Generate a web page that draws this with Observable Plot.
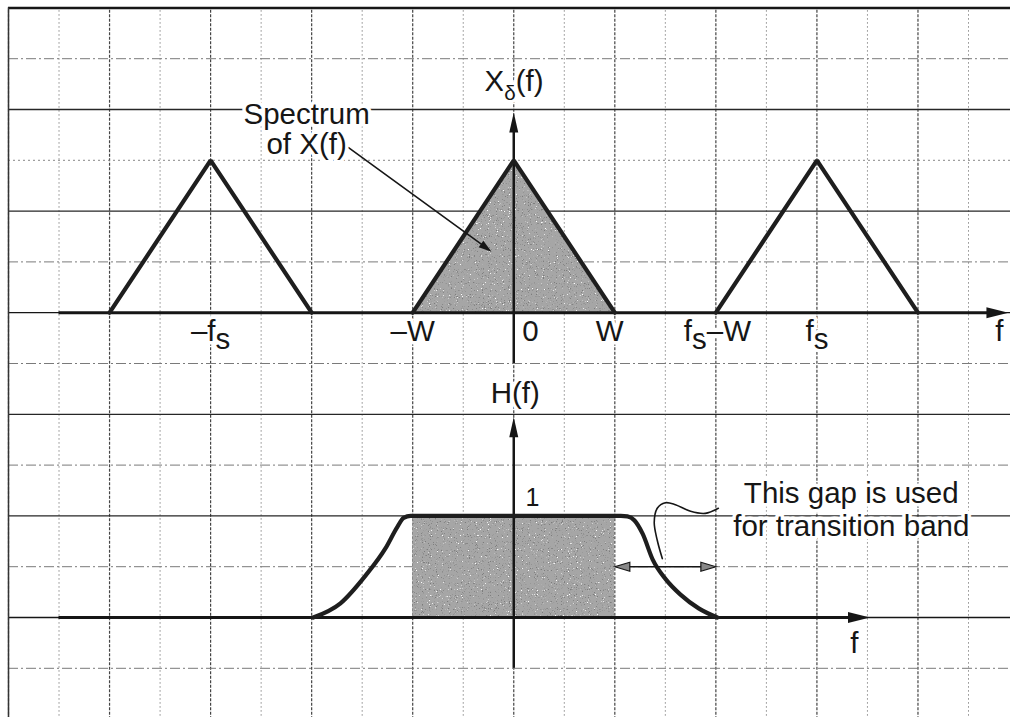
<!DOCTYPE html>
<html>
<head>
<meta charset="utf-8">
<script src="https://cdn.jsdelivr.net/npm/d3@7"></script>
<script src="https://cdn.jsdelivr.net/npm/@observablehq/plot@0.6"></script>
<style>
  html, body { margin: 0; padding: 0; background: #fff; }
  #chart svg { display: block; }
</style>
</head>
<body>
<div id="chart"></div>
<script>
// Frequencies are in grid units: W = 2 squares, fs = 6 squares.
const W = 2;
const fs = 6;
// Upper panel: sampled spectrum X_delta(f), replicas of a triangle of height 3 squares.
const topBase = 6;
const peak = 3;
const replicaCentres = [-fs, 0, fs];
// Lower panel: filter H(f), passband gain "1" drawn two squares high.
const botBase = 0;
const passGain = 2;

// Tick labels along the upper frequency axis and where each one is centred
const tickLabels = ["–f_s", "–W", "0", "W", "f_s–W", "f_s"];
const tickLabelF = [-6.0, -2.0, 0.33, 1.9, 4.03, 6.0];

// H(f) magnitude: smooth roll-off on both sides of the flat passband
const hF   = [-3.97, -3.43, -2.93, -2.54, -2.30, -2.18, -2.04, 0, 2.12, 2.25, 2.39, 2.55, 2.75, 3.01, 3.30, 3.66, 4.03];
const hMag = [0, 0.28, 0.83, 1.36, 1.79, 1.96, 2.0, 2.0, 2.0, 1.99, 1.91, 1.65, 1.14, 0.75, 0.45, 0.18, 0];

// Grid lines (in squares)
const gridMajorX = d3.range(-10, 9, 2);
const gridMinorX = d3.range(-9, 10, 2);
const gridSolidY = [10, 8, 4, 2];
const gridDashDotY = [11, 7, 5, 3, 1, -1];
const gridDottedY = [9];

// Annotations
const spectrumNote = ["Spectrum", "of X(f)"];
const gapNote = ["This gap is used", "for transition band"];
// hand-drawn squiggle pointing from the note to the roll-off
const squiggleF = [2.94, 2.84, 2.78, 2.84, 3.00, 3.20, 3.50, 3.79, 4.05];
const squiggleY = [1.16, 1.52, 1.87, 2.15, 2.26, 2.22, 2.09, 2.05, 2.15];

const INK = "#161616";
const SHADE = "#a6a6a6";
const FONT = "'Liberation Sans', Arial, Helvetica, sans-serif";
const FS = 29.5;

// narrow filled arrowhead, tip at the origin, pointing up before rotation
const head = (len, half) => ({
  draw(ctx) {
    ctx.moveTo(0, 0);
    ctx.lineTo(-half, len);
    ctx.lineTo(half, len);
    ctx.closePath();
  }
});

const triangles = replicaCentres.flatMap((c) => [
  {c, f: c - W, v: topBase},
  {c, f: c, v: topBase + peak},
  {c, f: c + W, v: topBase}
]);
const centreTri = triangles.filter((d) => d.c === 0);
const hCurve = hF.map((f, i) => ({f, v: hMag[i]}));
const squiggle = squiggleF.map((f, i) => ({f, v: squiggleY[i]}));
const ticks = tickLabels.map((label, i) => ({label, f: tickLabelF[i]}));

const textBase = {fontFamily: FONT, fill: INK, stroke: "white", strokeWidth: 7, lineAnchor: "bottom"};

const chart = Plot.plot({
  width: 1010,
  height: 717,
  margin: 0,
  x: {domain: [-10, 9], range: [8, 968], axis: null},
  y: {domain: [-2, 12], range: [718.6, 7.4], axis: null},
  style: {background: "white", overflow: "visible"},
  marks: [
    // graph-paper grid
    Plot.ruleX(gridMinorX, {y1: -2.1, y2: 12, stroke: "#8c8c8c", strokeWidth: 1, strokeDasharray: "1.5,2.5"}),
    Plot.ruleX(gridMajorX, {y1: -2.1, y2: 12, stroke: "#444", strokeWidth: 1.2, strokeDasharray: "3,1.5"}),
    Plot.ruleY(gridDashDotY, {x1: -10, x2: 9.9, stroke: "#7a7a7a", strokeWidth: 1, strokeDasharray: "10,3,2,3"}),
    Plot.ruleY(gridDottedY, {x1: -10, x2: 9.9, stroke: "#888", strokeWidth: 1, strokeDasharray: "2,3"}),
    Plot.ruleY(gridSolidY, {x1: -10, x2: 9.9, stroke: "#262626", strokeWidth: 1.3}),
    Plot.ruleY([topBase, botBase], {x1: -10, x2: 9.9, stroke: INK, strokeWidth: 1.3}),
    Plot.ruleY([12], {x1: -10, x2: 9.9, stroke: INK, strokeWidth: 2.5}),
    Plot.ruleX([-10], {y1: -2.1, y2: 12, stroke: "#333", strokeWidth: 1.5}),

    // passband shading and centre spectrum shading
    Plot.rect([0], {x1: -W, x2: W, y1: botBase, y2: botBase + passGain, fill: SHADE}),
    Plot.areaY(centreTri, {x: "f", y1: topBase, y2: "v", fill: SHADE}),

    // frequency axes
    Plot.ruleY([topBase], {x1: -9, x2: 9.6, stroke: INK, strokeWidth: 3}),
    Plot.dot([{f: 9.79, v: topBase}], {x: "f", y: "v", symbol: head(22, 5.5), rotate: 90, fill: INK}),
    Plot.ruleY([botBase], {x1: -9, x2: 6.7, stroke: INK, strokeWidth: 3}),
    Plot.dot([{f: 7.05, v: botBase}], {x: "f", y: "v", symbol: head(22, 5.5), rotate: 90, fill: INK}),

    // vertical axes
    Plot.ruleX([0], {y1: topBase - 1, y2: 9.6, stroke: INK, strokeWidth: 2.5}),
    Plot.dot([{f: 0, v: 9.94}], {x: "f", y: "v", symbol: head(20, 4.5), fill: INK}),
    Plot.ruleX([0], {y1: -1, y2: 3.6, stroke: INK, strokeWidth: 2.5}),
    Plot.dot([{f: 0, v: 3.94}], {x: "f", y: "v", symbol: head(20, 4.5), fill: INK}),

    // spectral replicas
    Plot.line(triangles, {x: "f", y: "v", z: "c", stroke: "#1e1e1e", strokeWidth: 4.2, strokeLinejoin: "miter"}),

    // filter response
    Plot.line(hCurve, {x: "f", y: "v", curve: "monotone-x", stroke: "#1e1e1e", strokeWidth: 4.2}),

    // transition-band double arrow
    Plot.ruleY([1], {x1: 2.1, x2: 3.9, stroke: INK, strokeWidth: 1.6}),
    Plot.dot([{f: W, v: 1}], {x: "f", y: "v", symbol: head(15, 4.5), rotate: -90, fill: "#888", stroke: INK, strokeWidth: 1.2}),
    Plot.dot([{f: fs - W, v: 1}], {x: "f", y: "v", symbol: head(15, 4.5), rotate: 90, fill: "#888", stroke: INK, strokeWidth: 1.2}),
    Plot.line(squiggle, {x: "f", y: "v", curve: "catmull-rom", stroke: INK, strokeWidth: 1.6}),

    // leader from the spectrum note into the shaded triangle
    Plot.line([{f: -3.27, v: 9.25}, {f: -0.52, v: 7.26}], {x: "f", y: "v", stroke: INK, strokeWidth: 1.6}),
    Plot.dot([{f: -0.44, v: 7.20}], {x: "f", y: "v", symbol: head(13, 4), rotate: 126, fill: INK}),

    // labels
    Plot.text(ticks, {...textBase, x: "f", y: 5.45, text: "label", fontSize: FS}),
    Plot.text(["f"], {...textBase, x: 9.61, y: 5.45, fontSize: FS}),
    Plot.text(["f"], {...textBase, x: 6.74, y: -0.69, fontSize: FS}),
    Plot.text(["X_δ(f)"], {...textBase, x: -0.58, y: 10.37, textAnchor: "start", fontSize: FS}),
    Plot.text(["H(f)"], {...textBase, x: 0.03, y: 4.23, fontSize: FS}),
    Plot.text(["1"], {...textBase, x: 0.37, y: 2.2, fontSize: 25}),
    Plot.text(spectrumNote, {...textBase, x: -4.1, y: (d, i) => [9.72, 9.13][i], fontSize: FS}),
    Plot.text(gapNote, {...textBase, x: 6.68, y: (d, i) => [2.26, 1.61][i], fontSize: FS})
  ]
});

// render "a_b" as a lowered subscript b
const SVGNS = "http://www.w3.org/2000/svg";
chart.querySelectorAll("text").forEach((t) => {
  const m = t.textContent.match(/^(.*?)_(.)(.*)$/);
  if (!m) return;
  t.textContent = "";
  const small = m[2] === "δ";
  const a = document.createElementNS(SVGNS, "tspan");
  a.textContent = m[1];
  const b = document.createElementNS(SVGNS, "tspan");
  b.textContent = m[2];
  b.setAttribute("dy", small ? "0.45em" : "0.3em");
  if (small) b.setAttribute("font-size", "0.7em");
  const c = document.createElementNS(SVGNS, "tspan");
  c.textContent = m[3];
  c.setAttribute("dy", small ? "-0.315em" : "-0.3em");
  t.append(a, b, c);
});

// fine print-style grain on the shaded regions
const defs = document.createElementNS(SVGNS, "defs");
defs.innerHTML = `
  <filter id="grain" x="0" y="0" width="100%" height="100%">
    <feTurbulence type="fractalNoise" baseFrequency="0.85" numOctaves="2" seed="7" result="noise"/>
    <feColorMatrix in="noise" type="matrix"
      values="0 0 0 0 0.2  0 0 0 0 0.2  0 0 0 0 0.2  7 0 0 0 -4.3" result="dark"/>
    <feColorMatrix in="noise" type="matrix"
      values="0 0 0 0 1  0 0 0 0 1  0 0 0 0 1  -9 0 0 0 2.7" result="light"/>
    <feMerge result="speck"><feMergeNode in="SourceGraphic"/><feMergeNode in="dark"/><feMergeNode in="light"/></feMerge>
    <feComposite in="speck" in2="SourceGraphic" operator="in"/>
  </filter>`;
chart.prepend(defs);
chart.querySelectorAll(`g[fill="${SHADE}"]`).forEach((g) => g.setAttribute("filter", "url(#grain)"));

document.getElementById("chart").append(chart);
</script>
</body>
</html>
